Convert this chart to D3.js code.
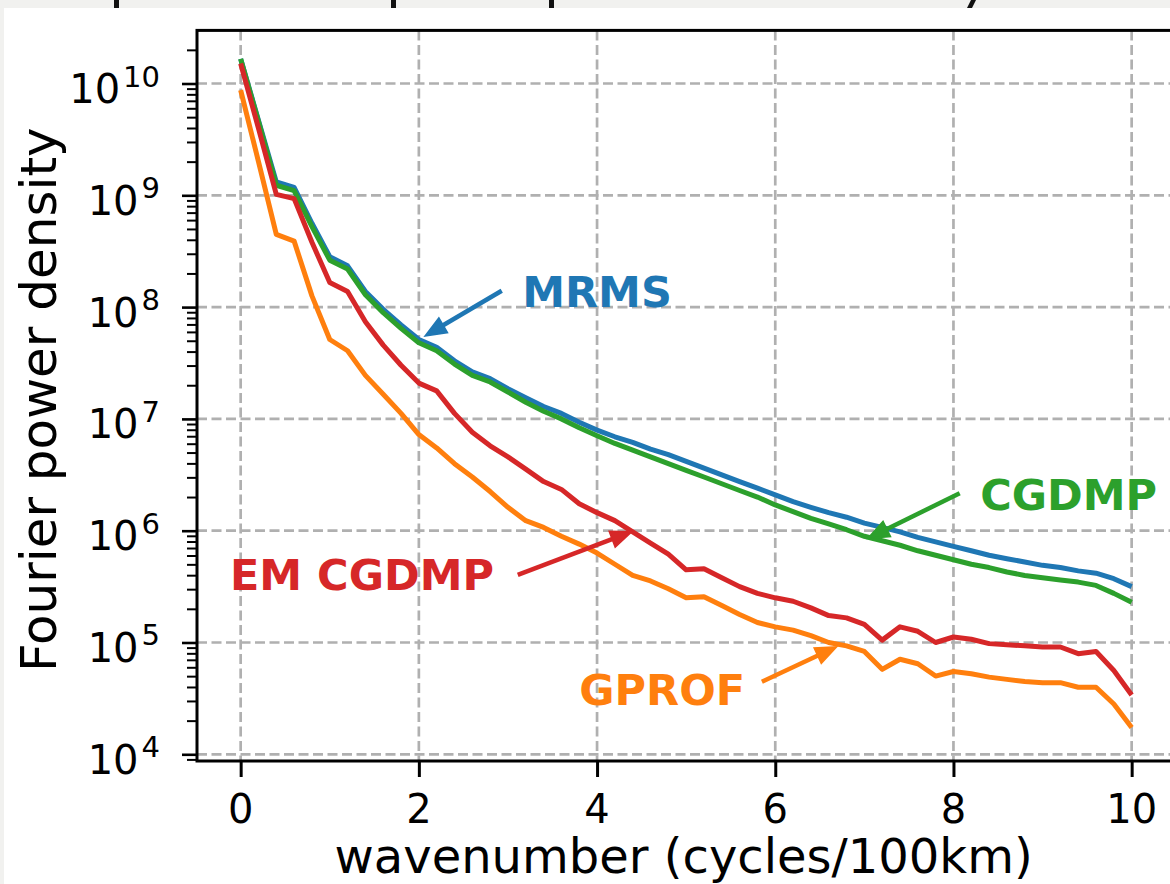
<!DOCTYPE html>
<html>
<head>
<meta charset="utf-8">
<script src="https://cdn.jsdelivr.net/npm/d3@7/dist/d3.min.js"></script>
<style>
  html, body { margin: 0; padding: 0; background: #f1f1ef; }
  svg { display: block; }
  text { font-family: "DejaVu Sans", sans-serif; }
</style>
</head>
<body>
<svg id="chart" width="1170" height="884"></svg>
<script>
// Wavenumber samples (cycles / 100 km)
const wavenumber = [0, 0.2, 0.4, 0.6, 0.8, 1.0, 1.2, 1.4, 1.6, 1.8, 2.0, 2.2, 2.4, 2.6, 2.8,
  3.0, 3.2, 3.4, 3.6, 3.8, 4.0, 4.2, 4.4, 4.6, 4.8, 5.0, 5.2, 5.4, 5.6, 5.8, 6.0, 6.2, 6.4,
  6.6, 6.8, 7.0, 7.2, 7.4, 7.6, 7.8, 8.0, 8.2, 8.4, 8.6, 8.8, 9.0, 9.2, 9.4, 9.6, 9.8, 10.0];

// Fourier power density of each precipitation product
const mrms = [1.66e10, 4.68e9, 1.32e9, 1.18e9, 5.62e8, 2.82e8, 2.34e8, 1.38e8, 9.55e7, 6.92e7,
  5.13e7, 4.37e7, 3.31e7, 2.63e7, 2.29e7, 1.86e7, 1.55e7, 1.29e7, 1.12e7, 9.33e6,
  7.94e6, 6.92e6, 6.17e6, 5.37e6, 4.79e6, 4.17e6, 3.63e6, 3.16e6, 2.75e6, 2.40e6,
  2.09e6, 1.82e6, 1.62e6, 1.45e6, 1.32e6, 1.17e6, 1.07e6, 9.77e5, 8.71e5, 7.94e5,
  7.24e5, 6.61e5, 6.03e5, 5.62e5, 5.25e5, 4.90e5, 4.68e5, 4.37e5, 4.17e5, 3.72e5, 3.16e5];

const cgdmp = [1.66e10, 4.57e9, 1.23e9, 1.10e9, 5.25e8, 2.63e8, 2.19e8, 1.29e8, 8.91e7, 6.46e7,
  4.79e7, 4.07e7, 3.09e7, 2.45e7, 2.14e7, 1.74e7, 1.41e7, 1.17e7, 1.00e7, 8.32e6,
  7.08e6, 6.03e6, 5.25e6, 4.57e6, 3.98e6, 3.47e6, 3.02e6, 2.63e6, 2.29e6, 2.00e6,
  1.70e6, 1.48e6, 1.29e6, 1.15e6, 1.02e6, 8.91e5, 8.13e5, 7.41e5, 6.61e5, 6.03e5,
  5.50e5, 5.01e5, 4.68e5, 4.27e5, 3.98e5, 3.80e5, 3.63e5, 3.47e5, 3.24e5, 2.75e5, 2.29e5];

const emCgdmp = [1.51e10, 3.98e9, 1.02e9, 9.33e8, 3.80e8, 1.66e8, 1.38e8, 7.41e7, 4.57e7, 3.02e7,
  2.09e7, 1.78e7, 1.12e7, 7.59e6, 5.75e6, 4.57e6, 3.55e6, 2.75e6, 2.34e6, 1.74e6,
  1.45e6, 1.23e6, 9.77e5, 7.76e5, 6.17e5, 4.47e5, 4.57e5, 3.80e5, 3.16e5, 2.75e5,
  2.51e5, 2.34e5, 2.04e5, 1.74e5, 1.66e5, 1.45e5, 1.05e5, 1.38e5, 1.26e5, 1.00e5,
  1.12e5, 1.07e5, 9.77e4, 9.55e4, 9.33e4, 9.12e4, 9.12e4, 7.94e4, 8.32e4, 5.62e4, 3.39e4];

const gprof = [8.71e9, 2.00e9, 4.47e8, 3.89e8, 1.26e8, 5.13e7, 4.07e7, 2.45e7, 1.66e7, 1.12e7,
  7.24e6, 5.50e6, 3.98e6, 3.02e6, 2.24e6, 1.62e6, 1.23e6, 1.07e6, 8.91e5, 7.59e5,
  6.31e5, 5.01e5, 3.98e5, 3.55e5, 3.02e5, 2.51e5, 2.57e5, 2.14e5, 1.78e5, 1.51e5,
  1.38e5, 1.29e5, 1.15e5, 1.00e5, 9.33e4, 8.32e4, 5.75e4, 7.08e4, 6.46e4, 5.01e4,
  5.50e4, 5.25e4, 4.90e4, 4.68e4, 4.47e4, 4.37e4, 4.37e4, 3.98e4, 3.98e4, 2.82e4, 1.74e4];

const seriesNames = ["MRMS", "CGDMP", "EM CGDMP", "GPROF"];
const seriesColors = ["#1f77b4", "#2ca02c", "#d62728", "#ff7f0e"];
const seriesValues = [mrms, cgdmp, emCgdmp, gprof];

// Axis ticks
const xTicks = [0, 2, 4, 6, 8, 10];
const yExponents = [4, 5, 6, 7, 8, 9, 10];

// Labels with arrows, in data coordinates: [text x, text y, tail x, tail y, tip x, tip y]
const labelNames = ["MRMS", "CGDMP", "EM CGDMP", "GPROF"];
const labelAnchors = [
  [3.16, 1.0e8, 2.93, 1.40e8, 2.07, 5.52e7],
  [8.30, 1.53e6, 8.07, 2.16e6, 7.04, 8.55e5],
  [-0.12, 2.95e5, 3.11, 4.02e5, 4.39, 9.80e5],
  [3.80, 2.76e4, 5.85, 4.46e4, 6.69, 9.16e4]
];
const labelColors = ["#1f77b4", "#2ca02c", "#d62728", "#ff7f0e"];

(function draw() {
  const svg = d3.select("#chart");

  // page backdrop: white slide panel
  svg.append("rect").attr("x", 4).attr("y", 8).attr("width", 1166).attr("height", 876).attr("fill", "#ffffff");
  // ends of the slide heading cut off above
  [[114, 0, 5, 8], [391, 0, 5, 8], [549, 0, 5, 8]].forEach(r =>
    svg.append("rect").attr("x", r[0]).attr("y", r[1]).attr("width", r[2]).attr("height", r[3]).attr("fill", "#111"));
  svg.append("path").attr("d", "M971,0 L976,0 L972,8 L967,8 Z").attr("fill", "#111");

  const x = d3.scaleLinear().domain([-0.49, 10.5]).range([197, 197 + 10.99 * 89.1]);
  const y = d3.scaleLog().domain([Math.pow(10, 3.94), Math.pow(10, 10.475)]).range([761, 30.4]);

  const pLeft = x(-0.49), pRight = x(10.5), pTop = y.range()[1], pBottom = y.range()[0];

  const plot = svg.append("g");

  // grid
  const gridColor = "#b0b0b0";
  plot.append("g").selectAll("line").data(xTicks).join("line")
    .attr("x1", d => x(d)).attr("x2", d => x(d))
    .attr("y1", pTop).attr("y2", pBottom)
    .attr("stroke", gridColor).attr("stroke-width", 2.7).attr("stroke-dasharray", "10,4.5");
  plot.append("g").selectAll("line").data(yExponents).join("line")
    .attr("x1", pLeft).attr("x2", pRight)
    .attr("y1", d => y(Math.pow(10, d))).attr("y2", d => y(Math.pow(10, d)))
    .attr("stroke", gridColor).attr("stroke-width", 2.7).attr("stroke-dasharray", "10,4.5");

  // spectra
  const line = d3.line().x((d, i) => x(wavenumber[i])).y(d => y(d));
  seriesValues.forEach((vals, k) => {
    plot.append("path").datum(vals)
      .attr("d", line)
      .attr("fill", "none")
      .attr("stroke", seriesColors[k])
      .attr("stroke-width", 5)
      .attr("stroke-linejoin", "round")
      .attr("stroke-linecap", "butt");
  });

  // frame
  plot.append("rect").attr("x", pLeft).attr("y", pTop)
    .attr("width", pRight - pLeft).attr("height", pBottom - pTop)
    .attr("fill", "none").attr("stroke", "#000").attr("stroke-width", 3);

  // y axis (log) with minor ticks
  const yAxis = d3.axisLeft(y)
    .tickValues(yExponents.map(e => Math.pow(10, e)))
    .tickSize(15).tickPadding(22).tickFormat("");
  const yAxisG = svg.append("g").attr("transform", `translate(${pLeft},0)`).call(yAxis);
  yAxisG.select(".domain").remove();
  yAxisG.selectAll(".tick line").attr("stroke", "#000").attr("stroke-width", 2.6);

  const minorVals = [];
  for (let e = 3; e <= 10; e++) for (let m = 2; m <= 9; m++) {
    const v = m * Math.pow(10, e);
    if (v >= y.domain()[0] && v <= y.domain()[1] * 1.001) minorVals.push(v);
  }
  const yMinor = d3.axisLeft(y).tickValues(minorVals).tickSize(10).tickFormat("");
  const yMinorG = svg.append("g").attr("transform", `translate(${pLeft},0)`).call(yMinor);
  yMinorG.select(".domain").remove();
  yMinorG.selectAll(".tick line").attr("stroke", "#000").attr("stroke-width", 2);

  // y tick labels as 10 with superscript exponent
  const yLab = svg.append("g");
  yExponents.forEach(e => {
    const t = yLab.append("text")
      .attr("x", 160).attr("y", y(Math.pow(10, e)) + 19.5)
      .attr("text-anchor", "end").attr("font-size", 40).attr("fill", "#000");
    t.append("tspan").text("10");
    t.append("tspan").attr("dx", 3).attr("dy", -16.5).attr("font-size", 29).text(String(e));
  });

  // x axis
  const xAxis = d3.axisBottom(x).tickValues(xTicks).tickSize(16).tickPadding(0).tickFormat("");
  const xAxisG = svg.append("g").attr("transform", `translate(0,${pBottom})`).call(xAxis);
  xAxisG.select(".domain").remove();
  xAxisG.selectAll(".tick line").attr("stroke", "#000").attr("stroke-width", 3);
  svg.append("g").selectAll("text").data(xTicks).join("text")
    .attr("x", d => x(d)).attr("y", 823)
    .attr("text-anchor", "middle").attr("font-size", 40).attr("fill", "#000")
    .text(d => d);

  // axis titles
  svg.append("text")
    .attr("x", (pLeft + pRight) / 2 - 3).attr("y", 872.5)
    .attr("text-anchor", "middle").attr("font-size", 48).attr("fill", "#000")
    .text("wavenumber (cycles/100km)");
  svg.append("text")
    .attr("transform", `translate(56,${(pTop + pBottom) / 2 + 4}) rotate(-90)`)
    .attr("text-anchor", "middle").attr("font-size", 50).attr("fill", "#000")
    .text("Fourier power density");

  // annotations
  const ann = svg.append("g");
  labelAnchors.forEach((a, k) => {
    const col = labelColors[k];
    const x0 = x(a[2]), y0 = y(a[3]), x1 = x(a[4]), y1 = y(a[5]);
    const dx = x1 - x0, dy = y1 - y0, len = Math.hypot(dx, dy);
    const ux = dx / len, uy = dy / len;
    const headLen = 21, headHalf = 8.5;
    const bx = x1 - ux * headLen, by = y1 - uy * headLen;
    ann.append("line")
      .attr("x1", x0).attr("y1", y0).attr("x2", bx + ux * 2).attr("y2", by + uy * 2)
      .attr("stroke", col).attr("stroke-width", 4.5);
    ann.append("path")
      .attr("d", `M${x1},${y1} L${bx - uy * headHalf},${by + ux * headHalf} L${bx + uy * headHalf},${by - ux * headHalf} Z`)
      .attr("fill", col).attr("stroke", col).attr("stroke-width", 1.5).attr("stroke-linejoin", "miter");
    ann.append("text")
      .attr("x", x(a[0])).attr("y", y(a[1]))
      .attr("font-size", 43).attr("font-weight", "bold").attr("fill", col)
      .text(labelNames[k]);
  });
})();
</script>
</body>
</html>
